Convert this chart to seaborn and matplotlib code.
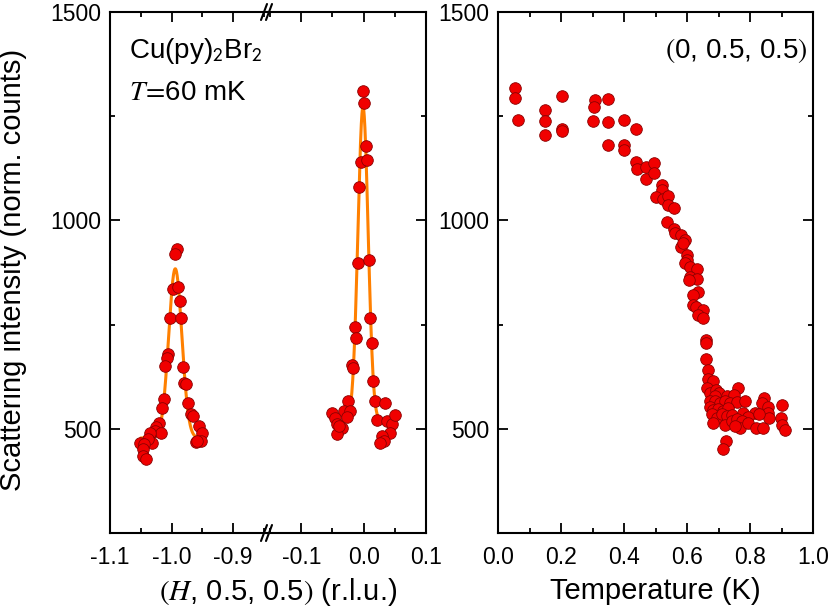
import numpy as np
import pandas as pd
import matplotlib
matplotlib.use("Agg")
import matplotlib.pyplot as plt
import seaborn as sns
from matplotlib.ticker import MultipleLocator
from matplotlib.lines import Line2D

# ---------------- data ----------------
# H-scan around H = -1
h1_H = [-0.9915, -0.994, -0.998, -0.990, -0.986, -1.002, -0.984, -1.005, -1.007, -1.010,
        -0.982, -0.979, -0.976, -1.012, -1.015, -0.974, -0.968, -0.966, -1.020, -1.025,
        -1.027, -1.017, -1.035, -1.031, -1.038, -1.052, -1.044, -1.046, -1.047, -1.042,
        -0.956, -0.950, -0.952, -0.961, -0.958]
h1_I = [932, 920, 836, 841, 806, 765, 765, 680, 671, 651,
        649, 609, 607, 571, 551, 563, 535, 531, 513, 505,
        495, 490, 491, 466, 475, 467, 463, 451, 435, 427,
        507, 491, 471, 469, 471]
# H-scan around H = 0
h2_H = [-0.001, 0.001, 0.004, -0.005, 0.006, -0.0075, -0.009, 0.0085, 0.010, -0.014,
        -0.012, 0.013, -0.019, -0.017, 0.0155, -0.0245, 0.019, 0.035, -0.050, -0.0315,
        -0.022, -0.027, -0.046, -0.043, -0.034, -0.042, -0.0395, 0.022, 0.038, 0.046,
        0.050, 0.043, 0.030, 0.0325, 0.026]
h2_I = [1310, 1281, 1179, 1139, 1146, 1080, 897, 904, 767, 744,
        717, 706, 654, 647, 614, 567, 567, 561, 539, 543,
        542, 529, 527, 511, 502, 487, 507, 521, 519, 511,
        534, 489, 483, 471, 465]
# Gaussian fit parameters (center, sigma, amplitude, background, H-range)
fit1_center, fit1_sigma, fit1_amp, fit1_bg = -0.994, 0.0107, 406, 478
fit1_range = (-1.050, -0.948)
fit2_center, fit2_sigma, fit2_amp, fit2_bg = -0.001, 0.0082, 754, 518
fit2_range = (-0.050, 0.051)

# Temperature scan at (0, 0.5, 0.5)
temp_T = [0.054, 0.054, 0.0625, 0.149, 0.149, 0.149, 0.202, 0.204, 0.204, 0.308,
          0.305, 0.301, 0.348, 0.348, 0.348, 0.399, 0.399, 0.401, 0.437, 0.437,
          0.440, 0.469, 0.469, 0.496, 0.496, 0.520, 0.520, 0.501, 0.525, 0.539,
          0.539, 0.559, 0.536, 0.560, 0.562, 0.581, 0.594, 0.580, 0.588, 0.599,
          0.599, 0.594, 0.610, 0.631, 0.610, 0.631, 0.606, 0.636, 0.620, 0.620,
          0.629, 0.652, 0.636, 0.650, 0.660, 0.660, 0.660, 0.668, 0.666, 0.682,
          0.663, 0.673, 0.692, 0.703, 0.763, 0.689, 0.726, 0.749, 0.673, 0.689,
          0.705, 0.721, 0.737, 0.758, 0.784, 0.673, 0.684, 0.699, 0.715, 0.731,
          0.678, 0.694, 0.710, 0.726, 0.742, 0.779, 0.816, 0.795, 0.684, 0.721,
          0.742, 0.758, 0.774, 0.768, 0.752, 0.795, 0.819, 0.840, 0.844, 0.837,
          0.858, 0.858, 0.861, 0.829, 0.901, 0.897, 0.901, 0.911, 0.723, 0.715]
temp_I = [1317, 1293, 1240, 1264, 1239, 1204, 1298, 1220, 1214, 1288,
          1272, 1239, 1291, 1236, 1180, 1242, 1180, 1168, 1220, 1140,
          1124, 1128, 1099, 1138, 1114, 1084, 1072, 1056, 1052, 1058,
          1036, 1030, 996, 980, 969, 966, 954, 937, 945, 916,
          904, 897, 889, 884, 864, 860, 858, 829, 820, 798,
          792, 785, 772, 765, 713, 705, 667, 641, 619, 614,
          598, 587, 593, 587, 598, 579, 579, 582, 567, 567,
          563, 567, 563, 565, 566, 553, 545, 547, 543, 551,
          535, 527, 535, 531, 534, 539, 539, 529, 515, 509,
          519, 523, 519, 503, 507, 513, 502, 503, 575, 563,
          553, 539, 527, 535, 556, 526, 510, 497, 471, 451]

y_ticks = [500, 1000, 1500]

# ---------------- style ----------------
sns.set_theme(style="ticks")
plt.rcParams['font.family'] = ['Liberation Sans', 'DejaVu Sans']
plt.rcParams['mathtext.fontset'] = 'stix'
plt.rcParams['axes.linewidth'] = 1.5
plt.rcParams['text.color'] = 'black'
plt.rcParams['axes.labelcolor'] = 'black'

W, H = 830, 609
fig = plt.figure(figsize=(W / 100, H / 100), dpi=100)

def fx(px):
    return px / W

def fy(py):
    return 1 - py / H

ax_top, ax_bot = 12, 533
hgt = (ax_bot - ax_top) / H
axA = fig.add_axes([fx(110), fy(ax_bot), (267 - 110) / W, hgt])
axB = fig.add_axes([fx(267), fy(ax_bot), (426 - 267) / W, hgt])
axR = fig.add_axes([fx(498), fy(ax_bot), (813 - 498) / W, hgt])

pt_kw = dict(color='#f00000', edgecolor='#8a0000', linewidth=0.6, s=70, zorder=3, legend=False)
fit_kw = dict(color='#ff8000', linewidth=2.2, zorder=2, legend=False)

def gauss_curve(center, sigma, amp, bg, rng):
    x = np.linspace(rng[0], rng[1], 300)
    return pd.DataFrame({'H': x, 'I': bg + amp * np.exp(-0.5 * ((x - center) / sigma) ** 2)})

df1 = pd.DataFrame({'H': h1_H, 'I': h1_I})
df2 = pd.DataFrame({'H': h2_H, 'I': h2_I})
dfT = pd.DataFrame({'T': temp_T, 'I': temp_I})

sns.lineplot(data=gauss_curve(fit1_center, fit1_sigma, fit1_amp, fit1_bg, fit1_range),
             x='H', y='I', ax=axA, sort=False, **fit_kw)
sns.scatterplot(data=df1, x='H', y='I', ax=axA, **pt_kw)
sns.lineplot(data=gauss_curve(fit2_center, fit2_sigma, fit2_amp, fit2_bg, fit2_range),
             x='H', y='I', ax=axB, sort=False, **fit_kw)
sns.scatterplot(data=df2, x='H', y='I', ax=axB, **pt_kw)
sns.scatterplot(data=dfT, x='T', y='I', ax=axR, **pt_kw)

for ax in (axA, axB, axR):
    ax.set_ylim(250, 1500)
    ax.set_yticks(y_ticks)
    ax.yaxis.set_minor_locator(MultipleLocator(250))
    ax.set_xlabel('')
    ax.set_ylabel('')
    for s in ax.spines.values():
        s.set_linewidth(1.5)
        s.set_color('black')
    ax.tick_params(which='both', direction='in', top=True, bottom=True,
                   width=1.3, colors='black', labelsize=16.5)
    ax.tick_params(which='major', length=7)
    ax.tick_params(which='minor', length=3.6)
    ax.tick_params(axis='x', which='major', pad=9)
    ax.tick_params(axis='y', which='major', pad=6)

axA.set_xlim(-1.1, -0.845)
axA.set_xticks([-1.1, -1.0, -0.9])
axA.set_xticklabels(['-1.1', '-1.0', '-0.9'])
axA.xaxis.set_minor_locator(MultipleLocator(0.05))
axA.spines['right'].set_visible(False)
axA.tick_params(which='both', left=True, right=False)

axB.set_xlim(-0.155, 0.1)
axB.set_xticks([-0.1, 0.0, 0.1])
axB.set_xticklabels(['-0.1', '0.0', '0.1'])
axB.xaxis.set_minor_locator(MultipleLocator(0.05))
axB.spines['left'].set_visible(False)
axB.tick_params(which='both', left=False, right=True, labelleft=False)

axR.set_xlim(0, 1.0)
axR.set_xticks([0.0, 0.2, 0.4, 0.6, 0.8, 1.0])
axR.set_xticklabels(['0.0', '0.2', '0.4', '0.6', '0.8', '1.0'])
axR.xaxis.set_minor_locator(MultipleLocator(0.1))
axR.tick_params(which='both', left=True, right=True)
axR.set_xlabel('Temperature (K)', fontsize=21, labelpad=6, color='black')

# axis break marks
for yb in (ax_top, ax_bot):
    for dx in (-3, 2):
        x0 = 267 + dx
        fig.add_artist(Line2D([fx(x0 - 3), fx(x0 + 3)], [fy(yb + 8), fy(yb - 8)],
                              color='black', linewidth=1.5))

# labels and annotations
fig.text(fx(13), fy(270), 'Scattering intensity (norm. counts)', rotation=90,
         ha='center', va='center', fontsize=21, color='black')
fig.text(fx(278), fy(600), r'$(H$, 0.5, 0.5$)$ (r.l.u.)', ha='center', va='baseline',
         fontsize=21, color='black')
fig.text(fx(129), fy(58), r'Cu(py)$_\mathsf{2}$Br$_\mathsf{2}$', ha='left', va='baseline',
         fontsize=20, color='black')
fig.text(fx(129), fy(100), r'$T\!=\!$60 mK', ha='left', va='baseline', fontsize=20,
         color='black')
fig.text(fx(808), fy(58), r'$($0, 0.5, 0.5$)$', ha='right', va='baseline', fontsize=20,
         color='black')

fig.savefig('out.png', dpi=100)
